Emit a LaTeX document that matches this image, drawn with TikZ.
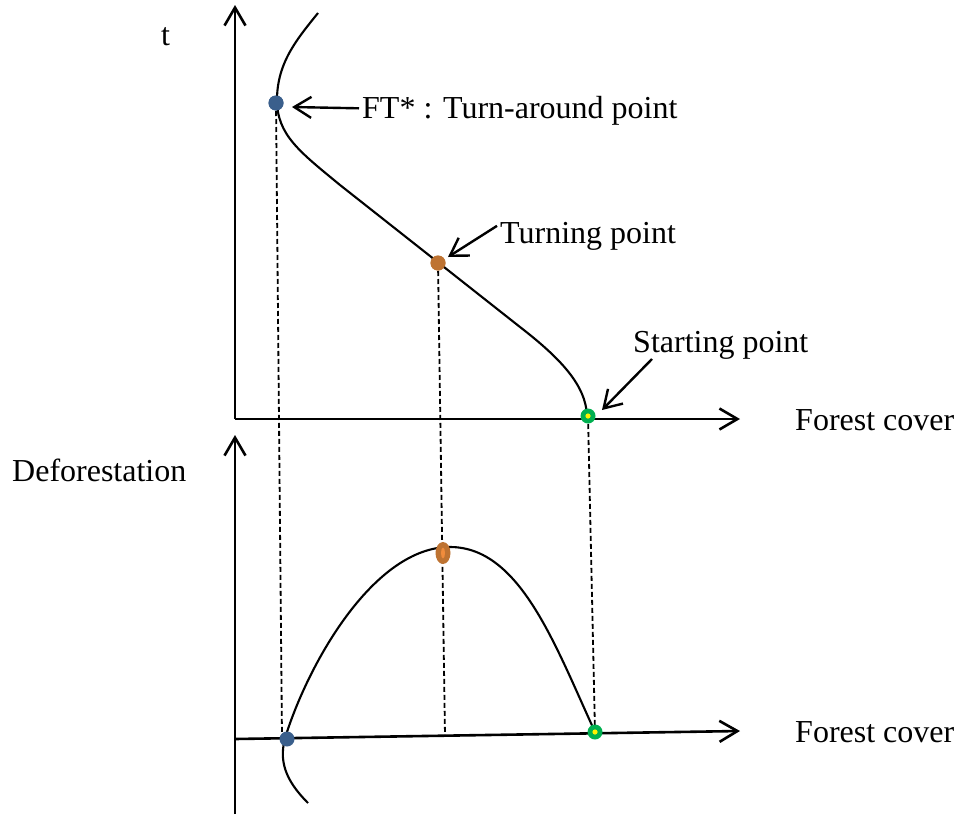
\documentclass[tikz,border=0pt]{standalone}
\usepackage{fontspec}
\setmainfont{Liberation Serif}
\usepackage{xcolor}
\usepackage{tikz}
\usetikzlibrary{arrows.meta, positioning, shapes.geometric}

\definecolor{ftblue}{RGB}{58,95,140}
\definecolor{tporange}{RGB}{190,115,50}
\definecolor{tplight}{RGB}{240,140,60}
\definecolor{spgreen}{RGB}{0,176,80}

\begin{document}
\begin{tikzpicture}[
    x=1pt, y=-1pt,
    axis/.style={line width=2.6pt, -{Straight Barb[length=18pt, width=21pt, line width=2.6pt]}},
    pointer/.style={line width=2.4pt, -{Straight Barb[length=17pt, width=21pt, line width=2.4pt]}},
    curve/.style={line width=2.1pt},
    guide/.style={line width=1.8pt, dash pattern=on 5pt off 3pt},
    lbl/.style={inner sep=0pt, anchor=base west, font=\rmfamily\fontsize{32}{38}\selectfont},
    dot/.style={circle, inner sep=0pt, minimum size=15pt}
]
\useasboundingbox (0,0) rectangle (955,814);

% points on the curves
\node[dot, fill=ftblue] (ft_top) at (276,103) {};
\node[dot, fill=tporange] (tp_top) at (438,263) {};
\coordinate (sp_top) at (588,416);
\coordinate (ft_foot) at (282,738);
\coordinate (tp_foot) at (445,736);
\coordinate (sp_foot) at (595,732);

% dashed guides
\draw[guide] (ft_top.center) -- (ft_foot);
\draw[guide] (tp_top.center) -- (tp_foot);
\draw[guide] (sp_top) -- (sp_foot);

% axes
\coordinate (o_top) at (235,419);
\coordinate (o_bot) at (235,739);
\draw[axis] (o_top) -- (235,5);
\draw[axis] (o_top) -- (740,419);
\draw[axis] (235,814) -- (235,435);
\draw[axis] (o_bot) -- (740,731);

% forest cover path
\draw[curve] (318,13) .. controls (298,38) and (277,62) .. (277,100)
    .. controls (277,135) and (300,152) .. (340,185)
    -- (520,327)
    .. controls (560,358) and (586,385) .. (587,416);

% deforestation curve
\draw[curve] (308,803) .. controls (285,780) and (278,760) .. (286,735)
    .. controls (310,660) and (375,547) .. (450,547)
    .. controls (520,547) and (555,645) .. (595,732);

% dots on top
\node[dot, fill=ftblue] at (ft_top) {};
\node[dot, fill=tporange] at (tp_top) {};
\node[dot, fill=spgreen] (sp_pt) at (sp_top) {};
\fill[yellow] (sp_pt) circle (2.6pt);
\node[dot, fill=ftblue] (ft_bot) at (287,739) {};
\node[ellipse, fill=tporange, inner sep=0pt, minimum width=15pt, minimum height=22pt] (tp_bot) at (443,553) {};
\node[ellipse, fill=tplight, inner sep=0pt, minimum width=4pt, minimum height=11pt] at (tp_bot) {};
\node[dot, fill=spgreen] (sp_bot) at (sp_foot) {};
\fill[yellow] (sp_bot) circle (2.6pt);

% labels
\node[lbl] (t_lbl) at (161,45) {t};
\node[lbl] (ft_lbl) at (362,118) {FT* : Turn-around point};
\node[lbl] (tp_lbl) at (500,243) {Turning point};
\node[lbl] (sp_lbl) at (633,352) {Starting point};
\node[lbl] (fc_top) at (795,430) {Forest cover};
\node[lbl] (fc_bot) at (795,742) {Forest cover};
\node[lbl] (df_lbl) at (12,481) {Deforestation};

% pointers
\draw[pointer] (ft_lbl.west) ++(-3,-2) -- (292,107);
\draw[pointer] (tp_lbl.west) ++(-3,-10) -- (448,257);
\draw[pointer] (652,359) -- (602,410);

\end{tikzpicture}
\end{document}
